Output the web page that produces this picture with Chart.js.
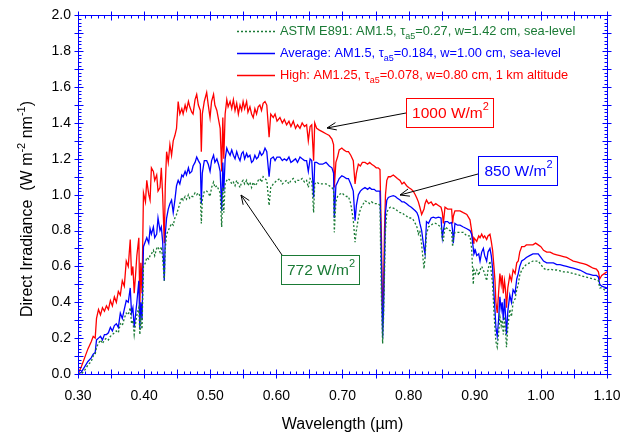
<!DOCTYPE html>
<html><head><meta charset="utf-8">
<script src="https://cdn.jsdelivr.net/npm/chart.js@4/dist/chart.umd.min.js"></script>
<style>html,body{margin:0;padding:0;background:#fff}#wrap{width:635px;height:438px;position:relative}</style>
</head><body><div id="wrap"><canvas id="c" width="635" height="438"></canvas></div>
<script>
// ---- DATA ----
const wavelengths = [0.300,0.305,0.310,0.315,0.320,0.323,0.326,0.328,0.331,0.334,0.337,0.340,0.343,0.346,0.349,0.352,0.355,0.358,0.361,0.364,0.367,0.370,0.373,0.376,0.379,0.381,0.383,0.385,0.387,0.389,0.392,0.3935,0.395,0.3968,0.399,0.402,0.404,0.407,0.409,0.411,0.414,0.416,0.419,0.421,0.424,0.426,0.428,0.4305,0.432,0.434,0.4365,0.439,0.4415,0.444,0.4465,0.449,0.4515,0.454,0.457,0.459,0.462,0.464,0.467,0.469,0.472,0.474,0.477,0.4795,0.482,0.485,0.4865,0.488,0.491,0.4946,0.497,0.4997,0.502,0.505,0.507,0.510,0.5125,0.515,0.5173,0.519,0.5205,0.5225,0.525,0.527,0.530,0.5325,0.535,0.5375,0.540,0.5425,0.545,0.5475,0.5497,0.552,0.555,0.557,0.560,0.5625,0.565,0.5675,0.570,0.5725,0.575,0.5775,0.580,0.5828,0.5855,0.589,0.5915,0.5953,0.598,0.601,0.6054,0.609,0.612,0.6155,0.619,0.622,0.6256,0.629,0.632,0.6357,0.639,0.6425,0.6457,0.6483,0.651,0.6535,0.6563,0.658,0.661,0.665,0.670,0.675,0.680,0.684,0.6865,0.6876,0.690,0.6925,0.695,0.699,0.702,0.706,0.709,0.7125,0.7163,0.719,0.721,0.724,0.727,0.730,0.734,0.738,0.741,0.744,0.748,0.751,0.754,0.7567,0.758,0.759,0.7607,0.762,0.7635,0.765,0.767,0.7693,0.7725,0.7768,0.780,0.783,0.787,0.790,0.793,0.797,0.800,0.804,0.807,0.810,0.8125,0.8147,0.817,0.8197,0.8233,0.8248,0.827,0.830,0.834,0.8373,0.841,0.845,0.849,0.851,0.8525,0.855,0.859,0.862,0.865,0.8665,0.8676,0.870,0.874,0.8777,0.8827,0.888,0.8928,0.8953,0.8978,0.8988,0.901,0.903,0.906,0.908,0.9105,0.913,0.915,0.918,0.920,0.923,0.925,0.927,0.929,0.9306,0.932,0.934,0.936,0.938,0.940,0.9415,0.9432,0.945,0.9465,0.948,0.950,0.953,0.9555,0.958,0.961,0.9635,0.9658,0.968,0.971,0.975,0.978,0.983,0.988,0.992,0.996,1.000,1.004,1.0088,1.014,1.019,1.024,1.029,1.034,1.039,1.044,1.049,1.054,1.059,1.064,1.069,1.074,1.079,1.084,1.087,1.089,1.092,1.096,1.100];

const highSeries = [0.00,0.04,0.09,0.14,0.18,0.21,0.20,0.31,0.36,0.33,0.37,0.35,0.38,0.36,0.41,0.38,0.43,0.40,0.46,0.44,0.52,0.49,0.63,0.60,0.75,0.55,0.60,0.45,0.55,0.66,0.76,0.37,0.62,0.45,1.01,0.96,1.08,1.00,0.97,1.15,1.13,1.08,1.11,1.02,1.04,1.15,1.00,0.73,1.05,1.24,1.18,1.28,1.22,1.30,1.33,1.37,1.52,1.45,1.48,1.45,1.50,1.47,1.52,1.49,1.46,1.45,1.53,1.56,1.50,1.47,1.24,1.45,1.52,1.57,1.50,1.43,1.52,1.56,1.50,1.47,1.42,1.37,1.13,1.43,1.20,1.45,1.53,1.49,1.52,1.48,1.53,1.47,1.51,1.45,1.50,1.47,1.52,1.48,1.52,1.46,1.49,1.45,1.43,1.48,1.45,1.49,1.50,1.47,1.51,1.52,1.50,1.32,1.45,1.43,1.45,1.41,1.43,1.40,1.42,1.39,1.41,1.38,1.41,1.37,1.39,1.37,1.40,1.38,1.39,1.30,1.38,1.39,1.19,1.40,1.37,1.36,1.35,1.34,1.33,1.31,1.28,1.04,1.18,1.21,1.25,1.26,1.25,1.24,1.24,1.22,1.19,1.06,1.12,1.17,1.16,1.18,1.18,1.17,1.18,1.17,1.16,1.15,1.15,1.14,0.90,0.74,0.30,0.45,0.80,1.00,1.08,1.10,1.10,1.11,1.10,1.09,1.08,1.06,1.07,1.05,1.04,1.03,1.02,1.00,0.98,0.96,0.93,0.89,0.92,0.95,0.97,0.95,0.96,0.94,0.95,0.94,0.93,0.90,0.84,0.93,0.92,0.92,0.92,0.84,0.88,0.91,0.91,0.91,0.90,0.89,0.86,0.80,0.73,0.76,0.75,0.74,0.77,0.76,0.78,0.76,0.77,0.75,0.77,0.78,0.74,0.69,0.60,0.52,0.40,0.34,0.45,0.56,0.50,0.55,0.45,0.52,0.47,0.37,0.48,0.55,0.52,0.58,0.56,0.62,0.63,0.68,0.71,0.71,0.72,0.72,0.72,0.73,0.72,0.71,0.69,0.68,0.68,0.67,0.665,0.66,0.655,0.65,0.64,0.63,0.625,0.62,0.615,0.61,0.60,0.59,0.585,0.57,0.53,0.55,0.56,0.57];

const averageSeries = [0.00,0.01,0.04,0.07,0.09,0.11,0.12,0.19,0.20,0.21,0.19,0.22,0.22,0.23,0.26,0.24,0.27,0.28,0.26,0.34,0.31,0.36,0.41,0.40,0.48,0.34,0.37,0.26,0.33,0.40,0.52,0.25,0.40,0.30,0.71,0.74,0.76,0.73,0.81,0.78,0.82,0.76,0.78,0.87,0.80,0.82,0.74,0.52,0.78,0.87,0.92,0.95,0.97,0.90,0.97,1.05,1.08,1.06,1.11,1.10,1.13,1.11,1.15,1.12,1.13,1.16,1.18,1.21,1.19,1.17,0.95,1.12,1.19,1.19,1.17,1.13,1.19,1.22,1.18,1.20,1.17,1.13,0.91,1.18,1.02,1.20,1.26,1.24,1.22,1.25,1.22,1.20,1.24,1.21,1.19,1.23,1.24,1.20,1.23,1.21,1.22,1.18,1.19,1.22,1.20,1.21,1.24,1.22,1.23,1.26,1.24,1.10,1.20,1.21,1.19,1.21,1.21,1.19,1.20,1.19,1.21,1.18,1.19,1.20,1.18,1.21,1.20,1.19,1.19,1.13,1.20,1.19,0.985,1.18,1.18,1.17,1.17,1.18,1.16,1.15,1.12,0.87,1.05,1.07,1.09,1.105,1.10,1.09,1.09,1.06,1.02,0.855,0.94,1.00,1.02,1.03,1.04,1.03,1.04,1.03,1.03,1.02,1.02,1.02,0.80,0.60,0.20,0.35,0.65,0.90,0.97,0.985,0.99,0.995,0.99,0.98,0.97,0.96,0.96,0.95,0.94,0.93,0.92,0.91,0.90,0.88,0.84,0.80,0.70,0.67,0.85,0.84,0.87,0.875,0.87,0.875,0.87,0.76,0.80,0.85,0.85,0.84,0.845,0.80,0.73,0.84,0.83,0.83,0.82,0.81,0.80,0.78,0.70,0.67,0.69,0.66,0.67,0.63,0.68,0.70,0.66,0.63,0.68,0.70,0.66,0.59,0.45,0.355,0.26,0.21,0.30,0.43,0.36,0.40,0.30,0.42,0.33,0.22,0.35,0.44,0.40,0.47,0.45,0.53,0.56,0.60,0.63,0.64,0.65,0.66,0.67,0.67,0.67,0.65,0.63,0.62,0.62,0.62,0.61,0.61,0.605,0.60,0.595,0.59,0.585,0.58,0.57,0.56,0.555,0.55,0.55,0.54,0.50,0.49,0.485,0.48];

const astmSeries = [0.00,0.00,0.02,0.05,0.07,0.10,0.11,0.15,0.17,0.19,0.17,0.19,0.20,0.19,0.21,0.22,0.23,0.24,0.23,0.28,0.27,0.31,0.34,0.33,0.37,0.28,0.30,0.22,0.28,0.33,0.37,0.22,0.30,0.25,0.60,0.62,0.65,0.64,0.66,0.67,0.69,0.66,0.70,0.71,0.68,0.71,0.65,0.52,0.70,0.78,0.80,0.82,0.84,0.83,0.87,0.89,0.92,0.95,0.985,0.97,0.99,0.975,1.00,0.98,0.99,0.99,1.01,1.00,1.01,0.99,0.84,0.97,1.02,1.02,1.01,0.99,1.04,1.07,1.04,1.05,1.03,1.01,0.82,1.04,0.90,1.06,1.08,1.09,1.08,1.06,1.07,1.05,1.08,1.06,1.04,1.07,1.08,1.06,1.08,1.05,1.07,1.04,1.07,1.05,1.06,1.08,1.09,1.07,1.10,1.09,1.08,0.94,1.04,1.06,1.07,1.08,1.09,1.06,1.07,1.08,1.06,1.08,1.09,1.07,1.08,1.08,1.09,1.07,1.08,1.04,1.09,1.08,0.90,1.06,1.07,1.06,1.06,1.06,1.05,1.04,1.02,0.79,0.96,0.99,1.00,1.01,1.00,0.99,0.99,0.95,0.86,0.735,0.80,0.87,0.92,0.94,0.965,0.96,0.95,0.96,0.95,0.95,0.95,0.94,0.60,0.40,0.17,0.30,0.55,0.80,0.90,0.92,0.93,0.925,0.92,0.91,0.90,0.90,0.89,0.88,0.87,0.87,0.86,0.84,0.82,0.78,0.80,0.72,0.587,0.65,0.78,0.82,0.83,0.84,0.84,0.83,0.82,0.75,0.745,0.82,0.81,0.80,0.80,0.71,0.76,0.79,0.79,0.79,0.79,0.77,0.77,0.70,0.50,0.58,0.56,0.58,0.55,0.58,0.60,0.58,0.56,0.52,0.58,0.63,0.57,0.50,0.35,0.25,0.18,0.15,0.22,0.32,0.27,0.30,0.22,0.32,0.24,0.15,0.26,0.36,0.32,0.40,0.42,0.47,0.50,0.55,0.58,0.60,0.61,0.62,0.63,0.63,0.63,0.61,0.59,0.58,0.585,0.58,0.58,0.575,0.57,0.57,0.565,0.56,0.555,0.55,0.545,0.54,0.535,0.53,0.525,0.52,0.48,0.48,0.47,0.46];

const xTickLabels = ['0.30','0.40','0.50','0.60','0.70','0.80','0.90','1.00','1.10'];
const yTickLabels = ['0.0','0.2','0.4','0.6','0.8','1.0','1.2','1.4','1.6','1.8','2.0'];
const seriesNames = ['ASTM E891', 'Average', 'High'];

// ---- STYLE ----
const FONT = '"Liberation Sans", Arial, Helvetica, sans-serif';
const RED = '#ff0000', BLUE = '#0000ff', GREEN = '#1a7a35', AXIS = '#0000ff';

function pts(vals){ return wavelengths.map((w,i)=>({x:w, y:vals[i]})); }

function richWidth(ctx, parts, size){
  let w = 0;
  for (const p of parts){
    ctx.font = ((p.sub||p.sup) ? Math.round(size*0.7) : size) + 'px ' + FONT;
    w += ctx.measureText(p.t).width;
  }
  return w;
}
function drawRich(ctx, x, y, parts, size, color){
  ctx.fillStyle = color;
  ctx.textBaseline = 'middle';
  ctx.textAlign = 'left';
  let cx = x;
  for (const p of parts){
    const s = (p.sub||p.sup) ? Math.round(size*0.7) : size;
    ctx.font = s + 'px ' + FONT;
    const dy = p.sub ? size*0.45 : (p.sup ? -size*0.4 : 0);
    ctx.fillText(p.t, cx, y + dy);
    cx += ctx.measureText(p.t).width;
  }
  return cx - x;
}
function arrow(ctx, x1, y1, x2, y2){
  ctx.save();
  ctx.strokeStyle = '#000'; ctx.lineWidth = 1;
  ctx.beginPath(); ctx.moveTo(x1,y1); ctx.lineTo(x2,y2); ctx.stroke();
  const a = Math.atan2(y2-y1, x2-x1), L = 10, h = 0.38;
  ctx.beginPath();
  ctx.moveTo(x2 - L*Math.cos(a-h), y2 - L*Math.sin(a-h));
  ctx.lineTo(x2, y2);
  ctx.lineTo(x2 - L*Math.cos(a+h), y2 - L*Math.sin(a+h));
  ctx.stroke();
  ctx.restore();
}

const decor = {
  id: 'decor',
  afterDraw(chart){
    const ctx = chart.ctx, xs = chart.scales.x, ys = chart.scales.y;
    const a = chart.chartArea;
    const L = Math.round(a.left)+0.5, R = Math.round(a.right)+0.5, T = Math.round(a.top)+0.5, B = Math.round(a.bottom)+0.5;
    ctx.save();
    ctx.strokeStyle = AXIS; ctx.lineWidth = 1;
    ctx.beginPath();
    ctx.rect(L, T, R-L, B-T);
    ctx.stroke();
    ctx.beginPath();
    for (let k = 30; k <= 110; k++){
      const px = Math.round(xs.getPixelForValue(k/100)) + 0.5;
      const major = (k % 5 === 0);
      const inn = major ? 5 : 3, out = major ? 4 : 0;
      ctx.moveTo(px, B + out); ctx.lineTo(px, B - inn);
      ctx.moveTo(px, T - out); ctx.lineTo(px, T + inn);
    }
    for (let k = 0; k <= 100; k++){
      const py = Math.round(ys.getPixelForValue(k/50)) + 0.5;
      const major = (k % 5 === 0);
      const inn = major ? 5 : 3, out = major ? 4 : 0;
      ctx.moveTo(L - out, py); ctx.lineTo(L + inn, py);
      ctx.moveTo(R + out, py); ctx.lineTo(R - inn, py);
    }
    ctx.stroke();

    ctx.fillStyle = '#000';
    ctx.font = '16px ' + FONT; ctx.textAlign = 'center'; ctx.textBaseline = 'middle';
    ctx.fillText('Wavelength (\u00b5m)', (a.left+a.right)/2, 425);
    const yParts = [{t:'Direct Irradiance  (W m'},{t:'-2',sup:true},{t:' nm'},{t:'-1',sup:true},{t:')'}];
    ctx.save();
    ctx.translate(28, 209); ctx.rotate(-Math.PI/2);
    const yw = richWidth(ctx, yParts, 16);
    drawRich(ctx, -yw/2, 0, yParts, 16, '#000');
    ctx.restore();

    const leg = [
      {c: GREEN, dash:[2,2], y: 31, parts:[{t:seriesNames[0]+': AM1.5, \u03c4'},{t:'a5',sub:true},{t:'=0.27, w=1.42 cm, sea-level'}]},
      {c: BLUE, dash:[], y: 53, parts:[{t:seriesNames[1]+': AM1.5, \u03c4'},{t:'a5',sub:true},{t:'=0.184, w=1.00 cm, sea-level'}]},
      {c: RED, dash:[], y: 75, parts:[{t:seriesNames[2]+': AM1.25, \u03c4'},{t:'a5',sub:true},{t:'=0.078, w=0.80 cm, 1 km altitude'}]}
    ];
    for (const e of leg){
      ctx.save();
      ctx.strokeStyle = e.c; ctx.lineWidth = 1.3; ctx.setLineDash(e.dash);
      ctx.beginPath(); ctx.moveTo(237, e.y+0.5); ctx.lineTo(275, e.y+0.5); ctx.stroke();
      ctx.restore();
      drawRich(ctx, 280, e.y, e.parts, 12.8, e.c);
    }

    const boxes = [
      {c: RED, x:406, y:98, w:87, h:29, tail:[406,113], tip:[327,128]},
      {c: BLUE, x:478, y:156, w:79, h:29, tail:[478,174], tip:[400,195]},
      {c: GREEN, x:281, y:255, w:78, h:29, tail:[282,255], tip:[241,195]}
    ];
    const labels = ['1000 W/m', '850 W/m', '772 W/m'];
    boxes.forEach((b,i)=>{
      arrow(ctx, b.tail[0], b.tail[1], b.tip[0], b.tip[1]);
      ctx.fillStyle = '#fff'; ctx.fillRect(b.x, b.y, b.w, b.h);
      ctx.strokeStyle = b.c; ctx.lineWidth = 1; ctx.setLineDash([]);
      ctx.strokeRect(b.x+0.5, b.y+0.5, b.w, b.h);
      const parts = [{t:labels[i]},{t:'2',sup:true}];
      const w = richWidth(ctx, parts, 15.5);
      drawRich(ctx, b.x + (b.w - w)/2 + 1, b.y + b.h/2 + 1, parts, 15.5, b.c);
    });
    ctx.restore();
  }
};

new Chart(document.getElementById('c'), {
  type: 'line',
  data: {
    datasets: [
      {label: seriesNames[0], data: pts(astmSeries), borderColor: GREEN, borderWidth: 1.3, borderDash: [2,2], pointRadius: 0, tension: 0, fill: false},
      {label: seriesNames[1], data: pts(averageSeries), borderColor: BLUE, borderWidth: 1.3, pointRadius: 0, tension: 0, fill: false},
      {label: seriesNames[2], data: pts(highSeries), borderColor: RED, borderWidth: 1.3, pointRadius: 0, tension: 0, fill: false}
    ]
  },
  options: {
    responsive: false, animation: false, devicePixelRatio: 1,
    layout: {padding: {left: 0, top: 14, right: 28, bottom: 0}},
    plugins: {legend: {display: false}, tooltip: {enabled: false}},
    scales: {
      x: {
        type: 'linear', min: 0.3, max: 1.1,
        afterFit(s){ s.height = 64; },
        grid: {display: true, drawOnChartArea: false, drawTicks: false},
        border: {display: true, color: AXIS},
        ticks: {stepSize: 0.1, autoSkip: false, maxRotation: 0, padding: 14, color: '#000',
                font: {size: 14, family: FONT},
                callback: (v) => { const i = Math.round((v-0.3)*10); return xTickLabels[i] ?? ''; }}
      },
      y: {
        type: 'linear', min: 0, max: 2,
        afterFit(s){ s.width = 78; },
        grid: {display: true, drawOnChartArea: false, drawTicks: false},
        border: {display: true, color: AXIS},
        ticks: {stepSize: 0.2, padding: 7, color: '#000', font: {size: 14, family: FONT},
                callback: (v) => { const i = Math.round(v*5); return yTickLabels[i] ?? ''; }}
      }
    }
  },
  plugins: [decor]
});
</script>
</body></html>
